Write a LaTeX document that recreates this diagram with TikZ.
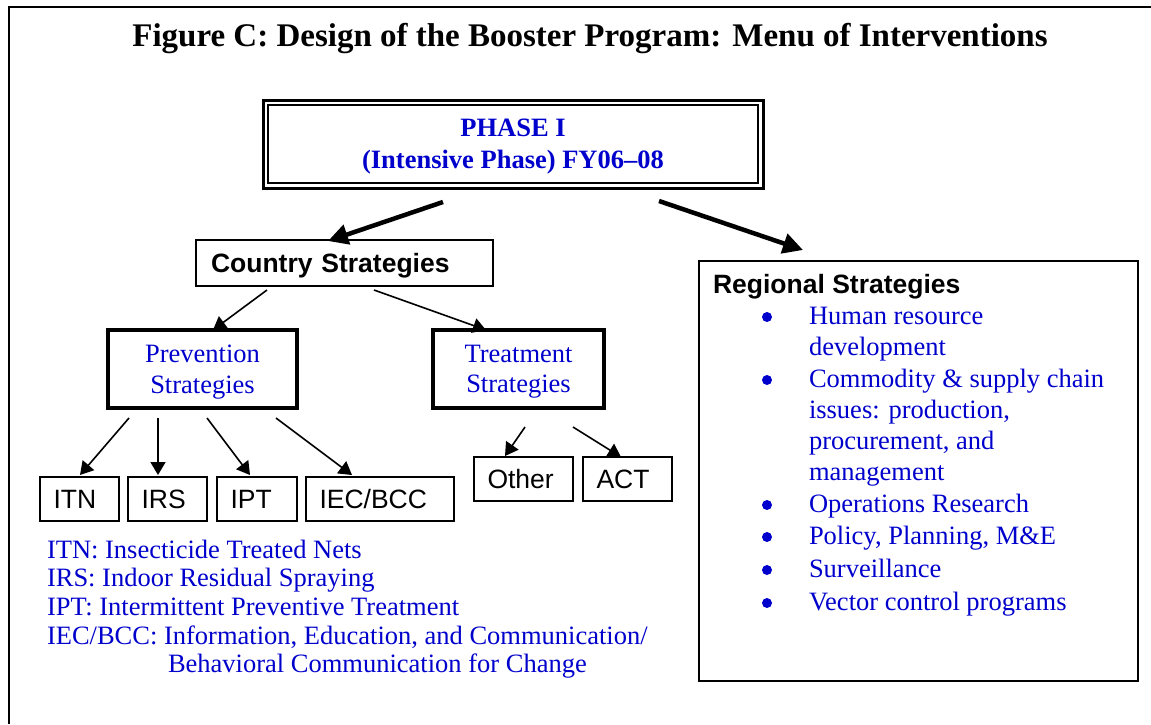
\documentclass[tikz,border=0pt]{standalone}
\usepackage{fontspec}
\setmainfont{Liberation Serif}
\setsansfont{Liberation Sans}
\usetikzlibrary{arrows.meta}
\definecolor{txtblue}{RGB}{0,0,205}

\begin{document}
\begin{tikzpicture}[x=1pt,y=-1pt,
  every node/.style={inner sep=0pt,outer sep=0pt},
  rmtext/.style={font=\fontsize{26.5}{30.5}\selectfont},
  sftext/.style={font=\sffamily\fontsize{26.5}{30.5}\selectfont},
  sfbold/.style={font=\sffamily\bfseries\fontsize{26.5}{30.5}\selectfont},
  labelbox/.style={draw,line width=1.5pt,anchor=north west,minimum height=44pt,
    inner xsep=13.5pt,align=left,text depth=0pt,sftext},
  stratbox/.style={draw,line width=3.5pt,anchor=north west,minimum height=78pt,
    align=center,text depth=0pt,text=txtblue,rmtext},
  bigarrow/.style={line width=4.5pt,-{Triangle[length=20pt,width=20pt]}},
  smallarrow/.style={line width=1.6pt,-{Triangle[length=13pt,width=15pt]}},
  legend/.style={anchor=base west,text=txtblue,rmtext},
  item/.style={anchor=base west,text=txtblue,rmtext},
  dot/.style={circle,fill=txtblue,minimum size=10pt},
]
\useasboundingbox (0,0) rectangle (1151,724);
\fill[white] (0,0) rectangle (1151,724);

% open frame: top and left rules
\draw[line width=2.2pt] (1151,7) -- (9,7) -- (9,724);

% title
\node[anchor=base,font=\bfseries\fontsize{33}{38}\selectfont] (title) at (590,46)
  {Figure C: Design of the Booster Program: Menu of Interventions};

% phase box with double frame
\node[draw,line width=3pt,anchor=north west,minimum width=500pt,minimum height=88pt,
  align=center,text depth=0pt,text=txtblue,font=\bfseries\fontsize{26.5}{32}\selectfont] (phase) at (263,100)
  {PHASE I\\(Intensive Phase) FY06--08};
\draw[line width=1.5pt] ([shift={(5,5)}]phase.north west) rectangle ([shift={(-5,-5)}]phase.south east);

% country strategies
\node[draw,line width=2pt,anchor=north west,minimum height=46pt,text width=267pt,
  inner xsep=15pt,align=left,text depth=0pt,sfbold] (country) at (196,240) {Country Strategies};

% prevention and treatment
\node[stratbox,minimum width=189pt] (prev) at (108,330) {Prevention\\Strategies};
\node[stratbox,minimum width=171pt] (treat) at (433,330) {Treatment\\Strategies};

% intervention boxes
\node[labelbox,text width=52pt] (itn) at (40,477) {ITN};
\node[labelbox,text width=52pt] (irs) at (128,477) {IRS};
\node[labelbox,text width=53pt] (ipt) at (217,477) {IPT};
\node[labelbox,text width=121pt] (iec) at (306,477) {IEC/BCC};
\node[labelbox,text width=72pt] (other) at (474,457) {Other};
\node[labelbox,text width=62pt] (act) at (583,457) {ACT};

% regional strategies
\node[draw,line width=2pt,anchor=north west,minimum width=439pt,minimum height=420pt] (regional) at (699,261) {};
\node[anchor=base west,sfbold] (regtitle) at (713,293) {Regional Strategies};
\node[dot] (d1) at (767,317) {};
\node[item] (r1) at (809,324) {Human resource};
\node[item] (r2) at (809,355) {development};
\node[dot] (d2) at (767,380) {};
\node[item] (r3) at (809,387) {Commodity \& supply chain};
\node[item] (r4) at (809,418) {issues: production,};
\node[item] (r5) at (809,449) {procurement, and};
\node[item] (r6) at (809,480) {management};
\node[dot] (d3) at (767,505) {};
\node[item] (r7) at (809,512) {Operations Research};
\node[dot] (d4) at (767,537) {};
\node[item] (r8) at (809,544) {Policy, Planning, M\&E};
\node[dot] (d5) at (767,570) {};
\node[item] (r9) at (809,577) {Surveillance};
\node[dot] (d6) at (767,603) {};
\node[item] (r10) at (809,610) {Vector control programs};

% abbreviations
\node[legend] (l1) at (47,558) {ITN: Insecticide Treated Nets};
\node[legend] (l2) at (47,586) {IRS: Indoor Residual Spraying};
\node[legend] (l3) at (47,615) {IPT: Intermittent Preventive Treatment};
\node[legend] (l4) at (47,644) {IEC/BCC: Information, Education, and Communication/};
\node[legend] (l5) at (168,672) {Behavioral Communication for Change};

% connectors
\draw[bigarrow] ([shift={(180,14)}]phase.south west) -- ([shift={(132,1)}]country.north west);
\draw[bigarrow] ([shift={(396,13)}]phase.south west) -- ([shift={(104,-11)}]regional.north west);
\draw[smallarrow] ([shift={(71,4)}]country.south west) -- ([shift={(105,0)}]prev.north west);
\draw[smallarrow] ([shift={(178,4)}]country.south west) -- ([shift={(53,0)}]treat.north west);
\draw[smallarrow] ([shift={(21,10)}]prev.south west) -- ([shift={(40,-2)}]itn.north west);
\draw[smallarrow] ([shift={(50,10)}]prev.south west) -- ([shift={(30,-2)}]irs.north west);
\draw[smallarrow] ([shift={(99,10)}]prev.south west) -- ([shift={(33,-2)}]ipt.north west);
\draw[smallarrow] ([shift={(168,10)}]prev.south west) -- ([shift={(46,-2)}]iec.north west);
\draw[smallarrow] ([shift={(92,19)}]treat.south west) -- ([shift={(31,-1)}]other.north west);
\draw[smallarrow] ([shift={(140,19)}]treat.south west) -- ([shift={(38,0)}]act.north west);
\end{tikzpicture}
\end{document}
